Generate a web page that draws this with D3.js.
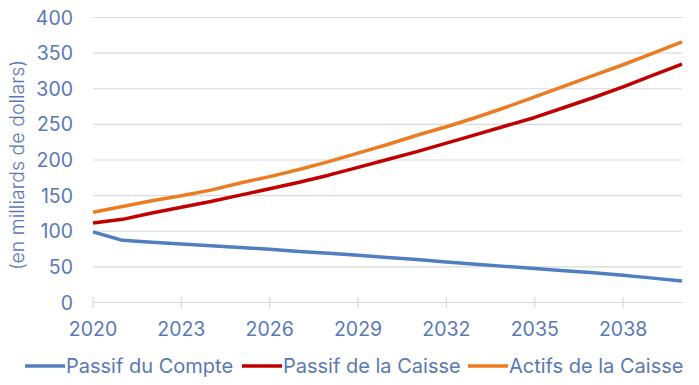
<!DOCTYPE html>
<html>
<head>
<meta charset="utf-8">
<script src="https://cdn.jsdelivr.net/npm/d3@7"></script>
<style>
  body { margin: 0; background: #fff; }
  svg text { font-family: Inter, "DejaVu Sans", sans-serif; fill: #5a78b6; }
</style>
</head>
<body>
<svg id="chart" width="699" height="385"></svg>
<script>
// values (milliards de dollars)
var years = d3.range(2020, 2041);
var passifCompte = [98.5, 86.5, 84, 81.5, 79, 76.5, 74, 71, 68.5, 65.5, 62.5, 59.5, 56, 53, 50, 47, 44, 41, 37.5, 33.5, 29.5];
var passifCaisse = [111, 116, 125, 133, 141, 150, 159, 168, 178, 189, 200, 211, 223, 235, 247, 259, 273, 287, 302, 318, 334];
var actifsCaisse = [126, 134, 142, 149, 157, 167, 176, 186, 197, 209, 221, 234, 246, 259, 273, 288, 303, 318, 333, 349, 365];
var yTicks = [0, 50, 100, 150, 200, 250, 300, 350, 400];
var xLabels = [2020, 2023, 2026, 2029, 2032, 2035, 2038];

var seriesNames = ["Passif du Compte", "Passif de la Caisse", "Actifs de la Caisse"];
var seriesColors = ["#4f7fc0", "#c00000", "#ec7c22"];
var seriesData = [passifCompte, passifCaisse, actifsCaisse];

var svg = d3.select("#chart");
var margin = {left: 93, right: 17, top: 17, bottom: 83};
var width = 699 - margin.left - margin.right,
    height = 385 - margin.top - margin.bottom;

var g = svg.append("g").attr("transform", "translate(" + margin.left + "," + margin.top + ")");

var x = d3.scaleLinear().domain([2020, 2040]).range([0, width]);
var y = d3.scaleLinear().domain([0, 400]).range([height, 0]);

// horizontal gridlines
g.selectAll(".grid")
  .data(yTicks.filter(function(d) { return d > 0; }))
  .enter().append("line")
    .attr("class", "grid")
    .attr("x1", 0).attr("x2", width)
    .attr("y1", function(d) { return y(d) + 0.5; })
    .attr("y2", function(d) { return y(d) + 0.5; })
    .style("stroke", "#d9d9d9")
    .style("stroke-width", 1.2);

// y axis labels
var yAxis = g.append("g")
    .attr("transform", "translate(-20,0)")
    .call(d3.axisLeft(y).tickValues(yTicks).tickSize(0).tickPadding(0));
yAxis.select(".domain").remove();
yAxis.selectAll("text").style("font-size", "19.5px").attr("dy", "0.36em");

// x axis: line with cross ticks
g.append("line")
    .attr("x1", 0).attr("x2", width)
    .attr("y1", height + 0.5).attr("y2", height + 0.5)
    .style("stroke", "#d9d9d9").style("stroke-width", 1.2);

g.selectAll(".xtick")
  .data(xLabels)
  .enter().append("line")
    .attr("class", "xtick")
    .attr("x1", function(d) { return x(d); })
    .attr("x2", function(d) { return x(d); })
    .attr("y1", height - 5).attr("y2", height + 6)
    .style("stroke", "#d9d9d9").style("stroke-width", 1.2);

g.selectAll(".xlabel")
  .data(xLabels)
  .enter().append("text")
    .attr("class", "xlabel")
    .attr("x", function(d) { return x(d); })
    .attr("y", height + 27)
    .attr("dy", "0.36em")
    .attr("text-anchor", "middle")
    .style("font-size", "19.5px")
    .text(function(d) { return d; });

// y title
svg.append("text")
    .attr("transform", "translate(17,165) rotate(-90)")
    .attr("text-anchor", "middle")
    .attr("dy", "0.36em")
    .style("font-size", "19.5px")
    .style("font-weight", 300)
    .text("(en milliards de dollars)");

// lines
var line = d3.line()
    .x(function(d, i) { return x(years[i]); })
    .y(function(d) { return y(d); });

g.selectAll(".series")
  .data(seriesData)
  .enter().append("path")
    .attr("class", "series")
    .attr("d", line)
    .style("fill", "none")
    .style("stroke", function(d, i) { return seriesColors[i]; })
    .style("stroke-width", 3.5)
    .style("stroke-linejoin", "round");

// legend
var legendX = [25, 242, 468];
var legend = svg.selectAll(".legend")
  .data(seriesNames)
  .enter().append("g")
    .attr("class", "legend")
    .attr("transform", function(d, i) { return "translate(" + legendX[i] + ",366)"; });

legend.append("line")
    .attr("x1", 0).attr("x2", 40)
    .style("stroke", function(d, i) { return seriesColors[i]; })
    .style("stroke-width", 3.5);

legend.append("text")
    .attr("x", 41)
    .attr("dy", "0.36em")
    .style("font-size", "20px")
    .text(function(d) { return d; });
</script>
</body>
</html>
